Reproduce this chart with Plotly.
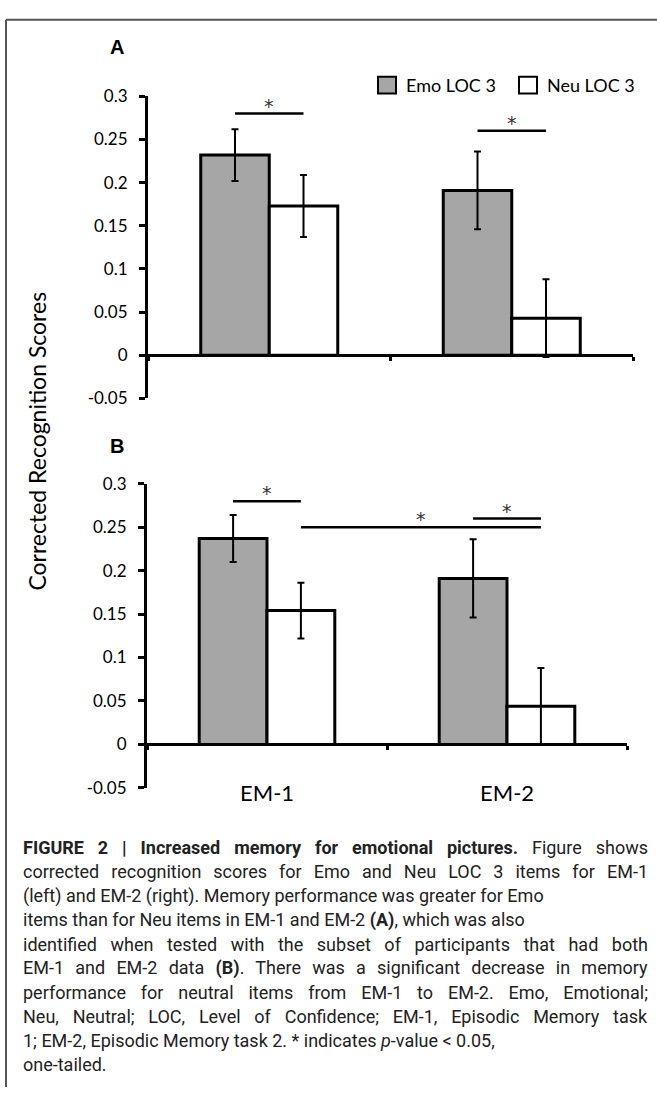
import plotly.graph_objects as go

# ---------------- data ----------------
categories = ["EM-1", "EM-2"]
series_names = ["Emo LOC 3", "Neu LOC 3"]

# Panel A
a_emo = [0.232, 0.191]
a_emo_err = [0.030, 0.045]
a_neu = [0.173, 0.043]
a_neu_err = [0.036, 0.045]

# Panel B
b_emo = [0.237, 0.191]
b_emo_err = [0.027, 0.045]
b_neu = [0.154, 0.044]
b_neu_err = [0.032, 0.044]

y_tickvals = [-0.05, 0, 0.05, 0.1, 0.15, 0.2, 0.25, 0.3]
y_ticktext = ["-0.05", "0", "0.05", "0.1", "0.15", "0.2", "0.25", "0.3"]
y_title = "Corrected Recognition Scores"
panel_labels = ["A", "B"]

# significance brackets: (start category, start series, end category, end series, y level)
sig_a = [("EM-1", 0, "EM-1", 1, 0.28), ("EM-2", 0, "EM-2", 1, 0.26)]
sig_b = [("EM-1", 0, "EM-1", 1, 0.28), ("EM-2", 0, "EM-2", 1, 0.26),
         ("EM-1", 1, "EM-2", 1, 0.25)]

caption_lines = [
    "<b>FIGURE 2 | Increased memory for emotional pictures.</b> Figure shows",
    "corrected recognition scores for Emo and Neu LOC 3 items for EM-1",
    "(left) and EM-2 (right). Memory performance was greater for Emo",
    "items than for Neu items in EM-1 and EM-2 <b>(A)</b>, which was also",
    "identified when tested with the subset of participants that had both",
    "EM-1 and EM-2 data <b>(B)</b>. There was a significant decrease in memory",
    "performance for neutral items from EM-1 to EM-2. Emo, Emotional;",
    "Neu, Neutral; LOC, Level of Confidence; EM-1, Episodic Memory task",
    "1; EM-2, Episodic Memory task 2. * indicates <i>p</i>-value < 0.05,",
    "one-tailed.",
]
caption_justified = [True, True, False, False, True, True, True, True, False, False]

# ---------------- layout helpers ----------------
W, H = 657, 1097
def px(x):
    return x / W
def py(y):
    return 1 - y / H

EMO_COLOR = "#a6a6a6"
NEU_COLOR = "#ffffff"
BARGAP = 0.435
YMIN, YMAX = -0.05, 0.3
CHART_FONT = "Lato, Carlito, Calibri, sans-serif"
CAPTION_FONT = "Roboto, Liberation Sans Narrow, sans-serif"
CAPTION_LEFT, CAPTION_RIGHT = 21, 648

xA = [px(148), px(633)]
yA = [py(395), py(87)]
xB = [px(147), px(627)]
yB = [py(792), py(482)]

def zero_pos(dom):
    return dom[0] + (0 - YMIN) / (YMAX - YMIN) * (dom[1] - dom[0])

fig = go.Figure()

def add_bars(emo, emo_err, neu, neu_err, xa, ya):
    for vals, errs, color, name in [(emo, emo_err, EMO_COLOR, series_names[0]),
                                    (neu, neu_err, NEU_COLOR, series_names[1])]:
        fig.add_trace(go.Bar(
            x=categories, y=vals, name=name, xaxis=xa, yaxis=ya,
            marker=dict(color=color, line=dict(color="black", width=3)),
            error_y=dict(type="data", array=errs, color="black",
                         thickness=2, width=3.5),
            showlegend=False,
        ))

add_bars(a_emo, a_emo_err, a_neu, a_neu_err, "x", "y")
add_bars(b_emo, b_emo_err, b_neu, b_neu_err, "x2", "y2")

def xaxis_cfg(dom, ydom):
    return dict(domain=dom, anchor="free", position=zero_pos(ydom),
                type="category", categoryorder="array", categoryarray=categories,
                range=[-0.5, 1.5], showline=True, linecolor="black", linewidth=3,
                ticks="outside", tickson="boundaries", ticklen=4, tickwidth=3,
                tickcolor="black", showticklabels=False, showgrid=False,
                zeroline=False)

def yaxis_cfg(dom, anchor):
    return dict(domain=dom, anchor=anchor, range=[YMIN, YMAX],
                tickmode="array", tickvals=y_tickvals, ticktext=y_ticktext,
                ticks="outside", ticklen=6, tickwidth=3, tickcolor="black",
                showline=True, linecolor="black", linewidth=3,
                showgrid=False, zeroline=False, ticklabelstandoff=8,
                tickfont=dict(family=CHART_FONT, size=17, color="black"))

shapes = []
annotations = []

# significance brackets
bar_w = (1 - BARGAP) / 2
def bar_center(cat, s):
    return categories.index(cat) + (s - 0.5) * bar_w

for sigs, xr, yr in [(sig_a, "x", "y"), (sig_b, "x2", "y2")]:
    for c0, s0, c1, s1, lvl in sigs:
        x0, x1 = bar_center(c0, s0), bar_center(c1, s1)
        shapes.append(dict(type="line", xref=xr, yref=yr, x0=x0, x1=x1,
                           y0=lvl, y1=lvl, line=dict(color="black", width=2.5)))
        annotations.append(dict(xref=xr, yref=yr, x=(x0 + x1) / 2, y=lvl,
                                text="*", showarrow=False, yanchor="bottom",
                                yshift=-5,
                                font=dict(family="DejaVu Sans", size=19, color="#333")))

# category labels (panel B only)
for c in categories:
    annotations.append(dict(xref="x2", yref="y2", x=c, y=YMIN, text=c,
                            showarrow=False, yshift=-5,
                            font=dict(family=CHART_FONT, size=22, color="black")))

# panel letters
for lab, ypix in zip(panel_labels, [37, 443]):
    annotations.append(dict(xref="paper", yref="paper", x=px(117), y=py(ypix),
                            text="<b>" + lab + "</b>", showarrow=False,
                            xanchor="center", yanchor="middle",
                            font=dict(family="Liberation Sans, Arial, sans-serif",
                                      size=20, color="black")))

# y title
annotations.append(dict(xref="paper", yref="paper", x=px(37), y=py(439),
                        text=y_title, textangle=-90, showarrow=False,
                        xanchor="center", yanchor="middle",
                        font=dict(family=CHART_FONT, size=23, color="black")))

# manual legend
for name, color, bx in zip(series_names, [EMO_COLOR, NEU_COLOR], [378, 519]):
    shapes.append(dict(type="rect", xref="paper", yref="paper",
                       x0=px(bx), x1=px(bx + 18), y0=py(84), y1=py(67),
                       fillcolor=color, line=dict(color="black", width=2)))
    annotations.append(dict(xref="paper", yref="paper", x=px(bx + 26), y=py(75.5),
                            xanchor="left", yanchor="middle", text=name,
                            showarrow=False,
                            font=dict(family=CHART_FONT, size=18, color="black")))

# caption
justify_idx = []
for i, line in enumerate(caption_lines):
    if caption_justified[i]:
        justify_idx.append(len(annotations))
    annotations.append(dict(xref="paper", yref="paper", x=px(CAPTION_LEFT),
                            y=py(853 + i * 24.6), xanchor="left", yanchor="middle",
                            align="left", text=line, showarrow=False,
                            font=dict(family=CAPTION_FONT, size=18, color="#222")))

# frame (top and left edges)
shapes.append(dict(type="line", xref="paper", yref="paper", x0=px(6), x1=1.0,
                   y0=py(9), y1=py(9), line=dict(color="#555", width=2)))
shapes.append(dict(type="line", xref="paper", yref="paper", x0=px(6), x1=px(6),
                   y0=py(9), y1=0.0, line=dict(color="#555", width=2)))

fig.update_layout(
    width=W, height=H, margin=dict(l=0, r=0, t=0, b=0),
    paper_bgcolor="white", plot_bgcolor="white",
    barmode="group", bargap=BARGAP, bargroupgap=0,
    xaxis=xaxis_cfg(xA, yA), yaxis=yaxis_cfg(yA, "x"),
    xaxis2=xaxis_cfg(xB, yB), yaxis2=yaxis_cfg(yB, "x2"),
    shapes=shapes, annotations=annotations, showlegend=False,
)

# justify the caption lines that are justified in the printed figure
post_js = """
document.body.style.margin = '0';
document.body.style.overflow = 'hidden';
(function () {
  var gd = document.getElementById('{plot_id}');
  var idx = %s;
  var RIGHT = %d;
  function justify() {
    var gr = gd.getBoundingClientRect();
    idx.forEach(function (i) {
      var t = gd.querySelector('g.annotation[data-index="' + i + '"] text.annotation-text');
      if (!t) return;
      t.style.wordSpacing = '0px';
      var n = (t.textContent.match(/ /g) || []).length;
      if (!n) return;
      var r = t.getBoundingClientRect();
      var extra = (gr.left + RIGHT) - r.right;
      t.style.wordSpacing = (extra / n) + 'px';
    });
  }
  justify();
  if (document.fonts && document.fonts.ready) document.fonts.ready.then(justify);
})();
""" % (str(justify_idx), CAPTION_RIGHT)

fig.write_html("out.html", config={"displayModeBar": False}, post_script=post_js)
